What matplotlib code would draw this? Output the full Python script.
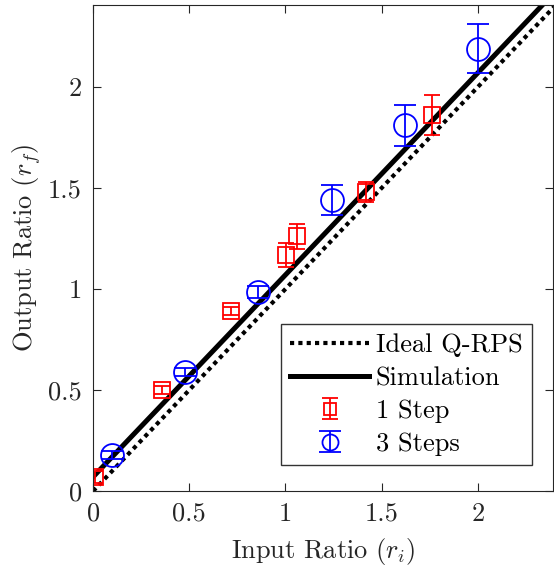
import numpy as np
import matplotlib
matplotlib.use("Agg")
import matplotlib.pyplot as plt
from matplotlib.container import ErrorbarContainer
from matplotlib.legend_handler import HandlerErrorbar

# dados
ideal_x = [0, 2.5]
ideal_y = [0, 2.5]
sim_x = [0, 2.5]
sim_y = [0.07, 2.57]

step1_x = [0.01, 0.36, 0.715, 1.005, 1.06, 1.42, 1.76]
step1_y = [0.07, 0.50, 0.89, 1.17, 1.26, 1.48, 1.86]
step1_err = [0.03, 0.02, 0.02, 0.06, 0.06, 0.05, 0.10]

step3_x = [0.10, 0.48, 0.855, 1.24, 1.62, 2.0]
step3_y = [0.18, 0.59, 0.985, 1.44, 1.81, 2.19]
step3_err = [0.02, 0.02, 0.03, 0.075, 0.10, 0.12]

plt.rcParams["font.family"] = "serif"
plt.rcParams["font.serif"] = ["cmr10", "DejaVu Serif"]
plt.rcParams["mathtext.fontset"] = "cm"
plt.rcParams["axes.formatter.use_mathtext"] = True

fig = plt.figure(figsize=(5.54, 5.69), dpi=100)
ax = fig.add_axes([0.168, 0.137, 0.83, 0.854])

ax.plot(ideal_x, ideal_y, color="black", lw=3, linestyle=(0, (1, 1)),
        dash_capstyle="butt", label="Ideal Q-RPS")
ax.plot(sim_x, sim_y, color="black", lw=3.6, label="Simulation")
ax.errorbar(step1_x, step1_y, yerr=step1_err, fmt="s", color="red",
            mfc="none", ms=12, mew=1.3, elinewidth=1.3, capsize=6,
            capthick=1.3, label="1 Step")
ax.errorbar(step3_x, step3_y, yerr=step3_err, fmt="o", color="blue",
            mfc="none", ms=16.5, mew=1.3, elinewidth=1.3, capsize=8,
            capthick=1.3, label="3 Steps")

ax.set_xlim(0, 2.39)
ax.set_ylim(0, 2.405)
ax.set_xticks([0, 0.5, 1, 1.5, 2])
ax.set_yticks([0, 0.5, 1, 1.5, 2])
ax.set_xticklabels(["0", "0.5", "1", "1.5", "2"])
ax.set_yticklabels(["0", "0.5", "1", "1.5", "2"])
ax.tick_params(direction="in", top=True, right=True, labelsize=19,
               colors="#262626", length=6, pad=8)
for s in ax.spines.values():
    s.set_color("#262626")
ax.set_xlabel("Input Ratio ($r_i$)", fontsize=19, color="#262626", labelpad=7)
ax.set_ylabel("Output Ratio ($r_f$)", fontsize=19, color="#262626")

leg = ax.legend(loc="lower right", bbox_to_anchor=(0.954, 0.053),
                borderaxespad=0, fontsize=19, frameon=True, fancybox=False,
                edgecolor="black", handlelength=3.0, handletextpad=0.25,
                labelspacing=0.35, borderpad=0.35, markerscale=0.7,
                handler_map={ErrorbarContainer: HandlerErrorbar(yerr_size=0.4)})
leg.get_frame().set_linewidth(1.0)

fig.savefig("out.png", dpi=100)
